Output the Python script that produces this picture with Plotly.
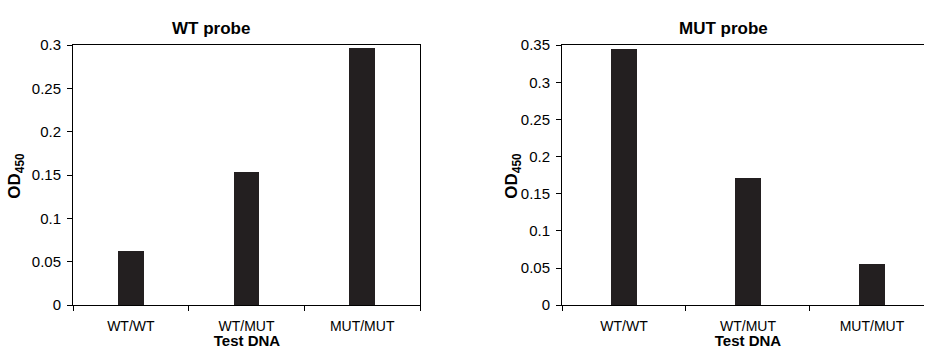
import plotly.graph_objects as go

categories = ["WT/WT", "WT/MUT", "MUT/MUT"]
wt_probe = [0.062, 0.153, 0.297]
mut_probe = [0.344, 0.171, 0.055]

wt_ticks = [0, 0.05, 0.1, 0.15, 0.2, 0.25, 0.3]
wt_ticktext = ["0", "0.05", "0.1", "0.15", "0.2", "0.25", "0.3"]
mut_ticks = [0, 0.05, 0.1, 0.15, 0.2, 0.25, 0.3, 0.35]
mut_ticktext = ["0", "0.05", "0.1", "0.15", "0.2", "0.25", "0.3", "0.35"]

W, H = 925, 357
FONT = "Liberation Sans, Arial, sans-serif"
BAR = "#231f20"

fig = go.Figure()
fig.add_trace(go.Bar(x=categories, y=wt_probe, width=0.22, marker=dict(color=BAR, line=dict(width=0)),
                     xaxis="x", yaxis="y", showlegend=False))
fig.add_trace(go.Bar(x=categories, y=mut_probe, width=0.21, marker=dict(color=BAR, line=dict(width=0)),
                     xaxis="x2", yaxis="y2", showlegend=False))
# x-axis titles, placed in page pixels on an invisible overlay axis
fig.add_trace(go.Scatter(x=[247, 748], y=[350, 350], mode="text",
                         text=["<b>Test DNA</b>", "<b>Test DNA</b>"], textposition="middle center",
                         textfont=dict(family=FONT, size=15, color="black"),
                         xaxis="x3", yaxis="y3", showlegend=False, hoverinfo="skip", cliponaxis=False))

ydom = [(H - 311) / H, (H - 38) / H]
common_x = dict(showline=True, linecolor="black", linewidth=1, ticks="outside", ticklen=5,
                tickcolor="black", tickson="boundaries", showgrid=False, zeroline=False,
                ticklabelstandoff=8,
                tickfont=dict(family=FONT, size=14, color="black"), type="category")
common_y = dict(showline=True, linecolor="black", linewidth=1, ticks="outside", ticklen=5,
                tickcolor="black", showgrid=False, zeroline=False, ticklabelstandoff=3,
                tickfont=dict(family=FONT, size=15, color="black"))

fig.update_layout(
    width=W, height=H, margin=dict(l=0, r=0, t=0, b=0),
    paper_bgcolor="white", plot_bgcolor="rgba(0,0,0,0)", bargap=0,
    xaxis=dict(domain=[73 / W, 420 / W], anchor="y", range=[-0.5, 2.5], mirror=True, **common_x),
    yaxis=dict(domain=ydom, anchor="x", range=[0, 0.3], tickvals=wt_ticks, ticktext=wt_ticktext,
               mirror=True, **common_y),
    xaxis2=dict(domain=[562 / W, 924 / W], anchor="y2", range=[-0.5, 2.42], mirror=True, **common_x),
    yaxis2=dict(domain=ydom, anchor="x2", range=[0, 0.35], tickvals=mut_ticks, ticktext=mut_ticktext,
                mirror=False, **common_y),
    xaxis3=dict(domain=[0, 1], anchor="y3", range=[0, W], visible=False, fixedrange=True),
    yaxis3=dict(domain=[0, 1], anchor="x3", range=[H, 0], visible=False, fixedrange=True),
)

ann = [
    dict(text="<b>WT probe</b>", x=211, y=20, size=17, angle=0),
    dict(text="<b>MUT probe</b>", x=723, y=20, size=17, angle=0),
    dict(text="<b>OD<sub>450</sub></b>", x=16, y=175, size=17, angle=-90),
    dict(text="<b>OD<sub>450</sub></b>", x=513, y=175, size=17, angle=-90),
]
for a in ann:
    fig.add_annotation(text=a["text"], x=a["x"] / W, y=1 - a["y"] / H, xref="paper", yref="paper",
                       xanchor="center", yanchor="middle", showarrow=False,
                       textangle=a["angle"], borderpad=0,
                       font=dict(family=FONT, size=a["size"], color="black"))

fig.write_html("out.html")
